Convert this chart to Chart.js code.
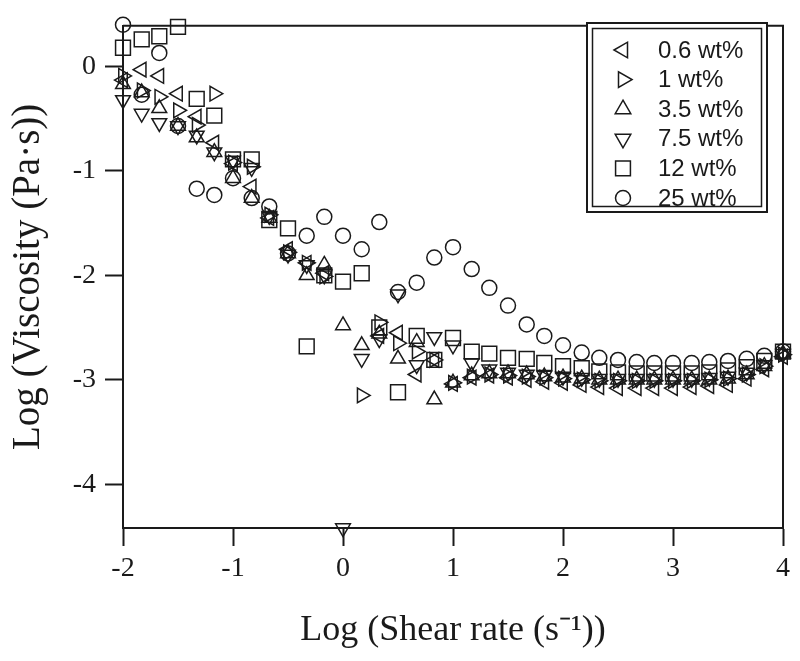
<!DOCTYPE html>
<html>
<head>
<meta charset="utf-8">
<script src="https://cdn.jsdelivr.net/npm/chart.js@4.4.1/dist/chart.umd.min.js"></script>
<style>
  body { margin: 0; background: #fff; }
</style>
</head>
<body>
<canvas id="myChart" width="800" height="661"></canvas>
<script>
// log shear rate (s^-1), six points per decade
const shearLog = [-2, -1.83, -1.67, -1.5, -1.33, -1.17, -1, -0.83, -0.67, -0.5, -0.33, -0.17,
  0, 0.17, 0.33, 0.5, 0.67, 0.83, 1, 1.17, 1.33, 1.5, 1.67, 1.83,
  2, 2.17, 2.33, 2.5, 2.67, 2.83, 3, 3.17, 3.33, 3.5, 3.67, 3.83, 4];

// log viscosity (Pa s) per concentration
const visc06 = [-0.13, -0.03, -0.09, -0.26, -0.48, -0.73, -0.93, -1.15, -1.45, -1.75, -1.88, -1.98,
  null, null, -2.58, -2.55, -2.95, -2.81, -3.04, -2.98, -2.96, -2.98, -3.00, -3.02,
  -3.03, -3.05, -3.07, -3.08, -3.08, -3.08, -3.08, -3.07, -3.06, -3.05, -2.99, -2.90, -2.78];
const visc1 = [-0.09, -0.23, -0.29, -0.42, -0.56, -0.26, -0.92, -0.96, -1.42, -1.78, -1.88, -2.01,
  null, -3.15, -2.45, -2.65, -2.73, -2.81, -3.03, -2.97, -2.95, -2.96, -2.97, -2.98,
  -2.99, -3.00, -3.01, -3.01, -3.01, -3.01, -3.01, -3.01, -3.00, -2.99, -2.95, -2.87, -2.76];
const visc35 = [-0.17, -0.25, -0.40, -0.57, -0.68, -0.82, -1.07, -1.26, -1.45, -1.79, -2.00, -1.90,
  -2.48, -2.67, -2.56, -2.80, -2.64, -3.19, -3.03, -2.96, -2.94, -2.94, -2.95, -2.97,
  -2.98, -2.99, -3.00, -3.00, -3.00, -3.00, -3.00, -3.00, -3.00, -2.99, -2.95, -2.87, -2.75];
const visc75 = [-0.32, -0.45, -0.54, -0.57, -0.66, -0.82, -0.90, -0.97, -1.43, -1.80, -1.90, -2.00,
  -4.42, -2.80, -2.61, -2.18, -2.86, -2.59, -2.67, -2.84, -2.90, -2.93, -2.95, -2.96,
  -2.97, -2.98, -2.99, -2.99, -2.99, -2.99, -2.99, -2.99, -2.98, -2.97, -2.93, -2.86, -2.75];
const visc12 = [0.18, 0.26, 0.29, 0.38, -0.31, -0.47, -0.89, -0.89, -1.47, -1.55, -2.68, -2.00,
  -2.06, -1.98, -2.50, -3.12, -2.58, -2.81, -2.60, -2.73, -2.75, -2.79, -2.80, -2.84,
  -2.87, -2.89, -2.92, -2.93, -2.94, -2.94, -2.94, -2.94, -2.93, -2.91, -2.88, -2.82, -2.73];
const visc25 = [0.40, -0.27, 0.13, -0.57, -1.17, -1.23, -1.07, -1.26, -1.34, -1.79, -1.62, -1.44,
  -1.62, -1.75, -1.49, -2.16, -2.07, -1.83, -1.73, -1.94, -2.12, -2.29, -2.47, -2.58,
  -2.67, -2.74, -2.79, -2.81, -2.83, -2.84, -2.84, -2.84, -2.83, -2.82, -2.80, -2.77, -2.73];

const seriesLabels = ['0.6 wt%', '1 wt%', '3.5 wt%', '7.5 wt%', '12 wt%', '25 wt%'];
const xTicks = [-2, -1, 0, 1, 2, 3, 4];
const yTicks = [-4, -3, -2, -1, 0];

const ink = '#1a1a1a';

function points(vals) {
  return shearLog.map((x, i) => ({ x: x, y: vals[i] })).filter(p => p.y !== null);
}

function series(label, vals, style, rot, r, lr) {
  return {
    label: label,
    data: points(vals),
    pointStyle: style,
    pointRotation: rot,
    pointRadius: r,
    legendRadius: lr,
    pointBorderWidth: 1.5,
    pointBorderColor: ink,
    pointBackgroundColor: 'rgba(0,0,0,0)',
    showLine: false,
    clip: false,
  };
}

// top/right frame and the double-ruled legend box
const frameLegend = {
  id: 'frameLegend',
  afterDraw(chart) {
    const { ctx, chartArea: a } = chart;
    ctx.save();
    ctx.strokeStyle = ink;
    ctx.lineWidth = 2;
    ctx.beginPath();
    ctx.moveTo(a.left, a.top);
    ctx.lineTo(a.right, a.top);
    ctx.lineTo(a.right, a.bottom);
    ctx.stroke();

    ctx.fillStyle = '#fff';
    ctx.fillRect(587, 23, 180, 189);
    ctx.lineWidth = 2;
    ctx.strokeRect(587, 23, 180, 189);
    ctx.lineWidth = 1.5;
    ctx.strokeRect(592.5, 28.5, 169, 178);

    ctx.font = '24px "Liberation Sans", Arial, sans-serif';
    ctx.textBaseline = 'middle';
    chart.data.datasets.forEach((ds, i) => {
      const y = 50 + i * 29.6;
      ctx.fillStyle = 'rgba(0,0,0,0)';
      ctx.strokeStyle = ink;
      ctx.lineWidth = 1.5;
      Chart.helpers.drawPoint(ctx, {
        pointStyle: ds.pointStyle, rotation: ds.pointRotation,
        radius: ds.legendRadius, borderWidth: 1.5
      }, 623, y);
      ctx.fillStyle = ink;
      ctx.fillText(ds.label, 658, y + 1);
    });
    ctx.restore();
  }
};

const serif = '"Liberation Serif", "Times New Roman", serif';

new Chart(document.getElementById('myChart').getContext('2d'), {
  type: 'scatter',
  data: {
    datasets: [
      series(seriesLabels[0], visc06, 'triangle', 270, 8.5, 9),
      series(seriesLabels[1], visc1, 'triangle', 90, 8.5, 9),
      series(seriesLabels[2], visc35, 'triangle', 0, 8.5, 9),
      series(seriesLabels[3], visc75, 'triangle', 180, 8.5, 9),
      series(seriesLabels[4], visc12, 'rect', 0, 10.5, 10.5),
      series(seriesLabels[5], visc25, 'circle', 0, 7.5, 7.5),
    ]
  },
  options: {
    responsive: false,
    animation: false,
    layout: { padding: { left: 0, right: 17, top: 16, bottom: 0 } },
    plugins: { legend: { display: false }, tooltip: { enabled: false } },
    scales: {
      x: {
        type: 'linear',
        min: -2,
        max: 4,
        afterFit: s => { s.height = 133; },
        afterBuildTicks: s => { s.ticks = xTicks.map(v => ({ value: v })); },
        ticks: {
          includeBounds: false,
          padding: 6,
          color: ink,
          font: { family: serif, size: 28 },
          callback: v => String(v),
        },
        grid: { drawOnChartArea: false, drawTicks: true, tickLength: 18, tickWidth: 2, tickColor: ink },
        border: { display: true, color: ink, width: 2 },
        title: {
          display: true,
          text: 'Log (Shear rate (s\u207B\u00B9))',
          color: ink,
          font: { family: serif, size: 36 },
          padding: { top: 0, bottom: 9 },
        },
      },
      y: {
        type: 'linear',
        min: -4.42,
        max: 0.39,
        afterFit: s => { s.width = 123; },
        afterBuildTicks: s => { s.ticks = yTicks.map(v => ({ value: v })); },
        ticks: {
          includeBounds: false,
          padding: 9,
          color: ink,
          font: { family: serif, size: 28 },
          callback: v => String(v),
        },
        grid: { drawOnChartArea: false, drawTicks: true, tickLength: 18, tickWidth: 2, tickColor: ink },
        border: { display: true, color: ink, width: 2 },
        title: {
          display: true,
          text: 'Log (Viscosity (Pa\u00B7s))',
          color: ink,
          font: { family: serif, size: 39 },
          padding: { top: 5, bottom: 0 },
        },
      },
    },
  },
  plugins: [frameLegend],
});
</script>
</body>
</html>
